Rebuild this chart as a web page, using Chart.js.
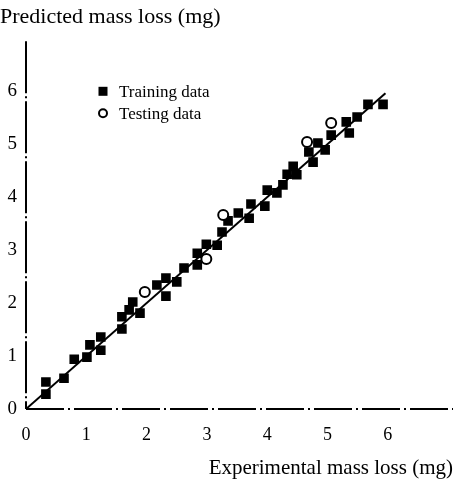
<!DOCTYPE html>
<html>
<head>
<meta charset="utf-8">
<script src="https://cdn.jsdelivr.net/npm/chart.js@4/dist/chart.umd.min.js"></script>
<style>
  html, body { margin: 0; padding: 0; background: #fff; }
  canvas { display: block; }
</style>
</head>
<body>
<canvas id="c" width="453" height="485"></canvas>
<script>
// ---- data ----
const trainX = [0.33,0.33,0.63,0.80,1.01,1.06,1.24,1.24,1.59,1.59,1.71,1.77,1.89,2.17,2.32,2.32,2.50,2.62,2.84,2.84,2.99,3.17,3.25,3.35,3.52,3.70,3.73,3.96,4.00,4.16,4.26,4.33,4.49,4.43,4.69,4.76,4.84,4.96,5.06,5.31,5.36,5.49,5.67,5.92];
const trainY = [0.28,0.51,0.58,0.94,0.98,1.21,1.36,1.11,1.74,1.51,1.87,2.02,1.81,2.34,2.47,2.13,2.40,2.66,2.94,2.72,3.11,3.09,3.34,3.55,3.70,3.60,3.87,3.83,4.13,4.08,4.23,4.43,4.42,4.58,4.85,4.66,5.02,4.89,5.17,5.42,5.21,5.51,5.75,5.75];
const testX = [1.97,2.99,3.27,4.66,5.06];
const testY = [2.21,2.83,3.66,5.04,5.40];
const fitX = [0, 5.96];
const fitY = [0, 5.96];
const xTickLabels = ['0','1','2','3','4','5','6'];
const yTickLabels = ['0','1','2','3','4','5','6'];
const seriesNames = ['Training data', 'Testing data'];
const xTitle = 'Experimental mass loss (mg)';
const yTitle = 'Predicted mass loss (mg)';

const pts = (xs, ys) => xs.map((x, i) => ({x: x, y: ys[i]}));
const SERIF = '"Liberation Serif", "Times New Roman", serif';

// dash-dot axis lines like the reference
const dashedAxes = {
  id: 'dashedAxes',
  beforeDatasetsDraw(chart) {
    const ctx = chart.ctx, ca = chart.chartArea;
    ctx.save();
    ctx.strokeStyle = '#000';
    ctx.lineWidth = 2;
    ctx.setLineDash([52, 3, 2, 3]);
    ctx.beginPath();
    ctx.moveTo(ca.left, ca.top);
    ctx.lineTo(ca.left, ca.bottom);
    ctx.stroke();
    ctx.setLineDash([38, 4, 2, 4]);
    ctx.beginPath();
    ctx.moveTo(ca.left, ca.bottom);
    ctx.lineTo(chart.width, ca.bottom);
    ctx.stroke();
    ctx.restore();
  }
};

const innerLegend = {
  id: 'innerLegend',
  afterDraw(chart, args, opts) {
    const ctx = chart.ctx;
    const ca = chart.chartArea;
    const x0 = ca.left + opts.dx, y0 = ca.top + opts.dy;
    ctx.save();
    ctx.font = '17px ' + SERIF;
    ctx.textBaseline = 'middle';
    const items = chart.data.datasets.filter(d => d.inLegend);
    items.forEach((d, i) => {
      const y = y0 + i * opts.gap;
      if (d.pointStyle === 'rect') {
        ctx.fillStyle = '#000';
        ctx.fillRect(x0 - 4.5, y - 4.5, 9, 9);
      } else {
        ctx.beginPath();
        ctx.lineWidth = 2;
        ctx.strokeStyle = '#000';
        ctx.fillStyle = '#fff';
        ctx.arc(x0, y, 4, 0, Math.PI * 2);
        ctx.fill();
        ctx.stroke();
      }
      ctx.fillStyle = '#000';
      ctx.fillText(d.label, x0 + 16, y + 1);
    });
    ctx.restore();
  }
};

new Chart(document.getElementById('c'), {
  type: 'scatter',
  data: {
    datasets: [
      {
        label: 'fit',
        data: pts(fitX, fitY),
        showLine: true,
        pointRadius: 0,
        borderColor: '#000',
        borderWidth: 2,
        order: 3
      },
      {
        label: seriesNames[0],
        inLegend: true,
        data: pts(trainX, trainY),
        pointStyle: 'rect',
        pointRadius: 6.8,
        backgroundColor: '#000',
        borderColor: '#000',
        borderWidth: 0,
        order: 2
      },
      {
        label: seriesNames[1],
        inLegend: true,
        data: pts(testX, testY),
        pointStyle: 'circle',
        pointRadius: 5,
        backgroundColor: '#fff',
        borderColor: '#000',
        borderWidth: 2,
        order: 1
      }
    ]
  },
  options: {
    responsive: false,
    animation: false,
    devicePixelRatio: 1,
    layout: { padding: 0, autoPadding: false },
    plugins: {
      legend: { display: false },
      tooltip: { enabled: false },
      title: {
        display: true,
        text: yTitle,
        align: 'start',
        color: '#000',
        font: { family: SERIF, size: 22, weight: 'normal', lineHeight: 1.15 },
        padding: { top: 5, bottom: 11 }
      },
      innerLegend: { dx: 77, dy: 50, gap: 22 }
    },
    scales: {
      x: {
        type: 'linear',
        min: 0,
        max: 7.08,
        grid: { display: false, drawTicks: false },
        border: { display: false },
        ticks: {
          stepSize: 1,
          color: '#000',
          padding: 15,
          font: { family: SERIF, size: 18 },
          callback: (v) => (Number.isInteger(v) && xTickLabels[v] !== undefined) ? xTickLabels[v] : ''
        },
        title: {
          display: true,
          text: xTitle,
          align: 'end',
          color: '#000',
          font: { family: SERIF, size: 21 },
          padding: { top: 0, bottom: 4 }
        },
        afterFit: (s) => { s.height = 76; s.paddingLeft = 0; s.paddingRight = 0; }
      },
      y: {
        type: 'linear',
        min: 0,
        max: 6.94,
        grid: { display: false, drawTicks: false },
        border: { display: false },
        ticks: {
          stepSize: 1,
          color: '#000',
          padding: 9,
          font: { family: SERIF, size: 19 },
          callback: (v) => (Number.isInteger(v) && yTickLabels[v] !== undefined) ? yTickLabels[v] : ''
        },
        afterFit: (s) => { s.width = 26; s.paddingTop = 0; s.paddingBottom = 0; }
      }
    }
  },
  plugins: [dashedAxes, innerLegend]
});
</script>
</body>
</html>
